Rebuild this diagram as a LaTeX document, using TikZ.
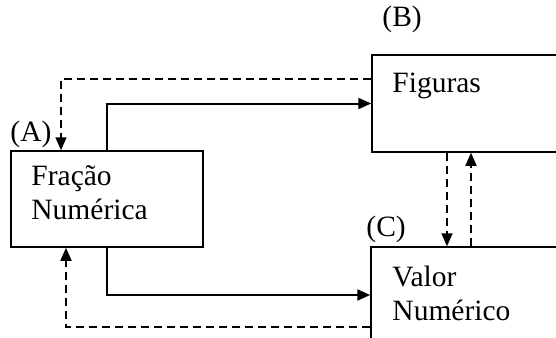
\documentclass[tikz,border=0pt]{standalone}
\usepackage{fontspec}
\setmainfont{Liberation Serif}
\usetikzlibrary{arrows.meta}

\begin{document}
\begin{tikzpicture}[x=1pt,y=-1pt,
  box/.style={draw,line width=1.5pt,inner sep=0pt},
  txt/.style={align=left,inner sep=0pt,font=\fontsize{29.5}{34}\selectfont},
  lbl/.style={inner sep=0pt,font=\fontsize{29.5}{34}\selectfont},
  flow/.style={line width=2pt,-{Triangle[length=13pt,width=11pt]}},
  back/.style={line width=1.7pt,dash pattern=on 8pt off 5pt,-{Triangle[length=13pt,width=11pt]}}]
  \useasboundingbox (0,0) rectangle (556,337);
  \clip (0,0) rectangle (556,337);
  % boxes
  \node[box,minimum width=192pt,minimum height=96pt] (frac) at (107,199) {};
  \node[box,minimum width=228pt,minimum height=97pt] (fig) at (486,103.5) {};
  \node[box,minimum width=228pt,minimum height=96pt] (val) at (485,295) {};
  % texts
  \node[txt,anchor=base west] (fractxt) at ([shift={(21,69)}]frac.north west) {Fração\\Numérica};
  \node[txt,anchor=base west] (figtxt) at ([shift={(21,38)}]fig.north west) {Figuras};
  \node[txt,anchor=base west] (valtxt) at ([shift={(22,74)}]val.north west) {Valor\\Numérico};
  \node[lbl,anchor=base west] (la) at ([shift={(0,-9)}]frac.north west) {(A)};
  \node[lbl,anchor=base west] (lb) at ([shift={(11,-28)}]fig.north west) {(B)};
  \node[lbl,anchor=base west] (lc) at ([shift={(-4,-10)}]val.north west) {(C)};
  % connectors
  \draw[flow] (frac.north) |- (fig.west);
  \draw[flow] (frac.south) |- (val.west);
  \draw[back] ([yshift=24.5pt]fig.west) -| ([xshift=-46pt]frac.north);
  \draw[back] ([yshift=-32pt]val.west) -| ([xshift=-41pt]frac.south);
  \draw[back] ([xshift=-39pt]fig.south) -- ([xshift=-39pt]fig.south |- val.north);
  \draw[back] ([xshift=-15pt]fig.south |- val.north) -- ([xshift=-15pt]fig.south);
\end{tikzpicture}
\end{document}
